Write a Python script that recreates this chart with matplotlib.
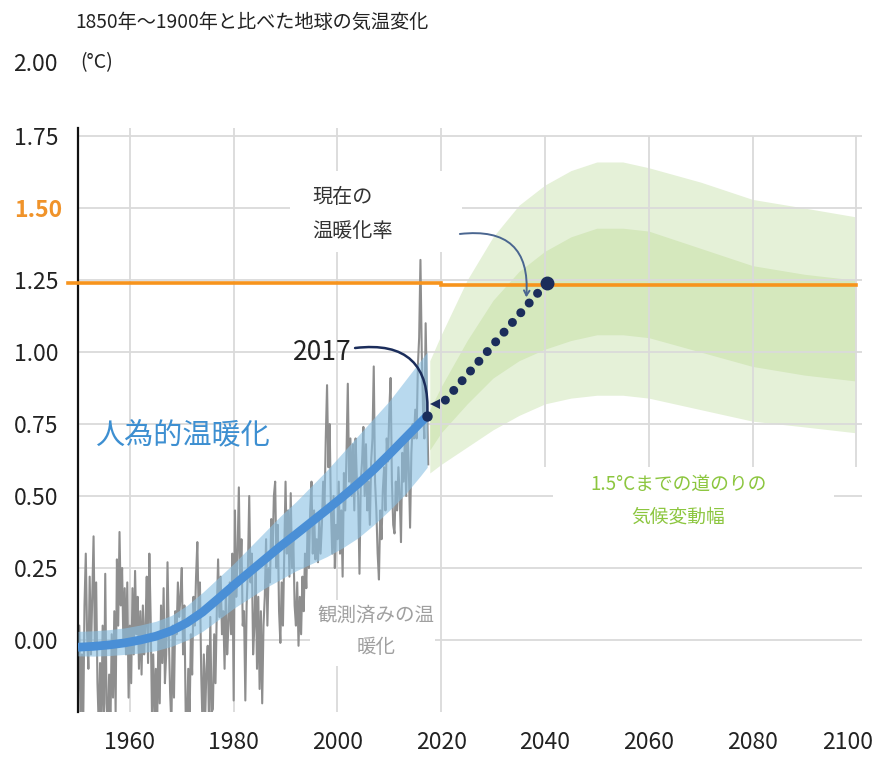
import numpy as np
import matplotlib.pyplot as plt
from matplotlib.patches import Rectangle
from matplotlib.transforms import ScaledTranslation

plt.rcParams['font.family'] = ['Noto Sans CJK JP', 'DejaVu Sans']

obs_start = 1950
obs_anom = [
    -0.18, 0.05, -0.28, -0.05,   # 1950
    -0.30, 0.12, 0.30, 0.02,
    -0.10, 0.22, -0.05, 0.15,
    0.36, -0.02, 0.20, -0.15,
    -0.30, -0.08, -0.28, 0.05,
    -0.30, 0.23, -0.22, -0.30,   # 1955
    -0.12, -0.30, 0.02, -0.20,
    0.10, -0.25, 0.28, 0.05,
    0.375, 0.12, 0.25, -0.02,
    0.18, -0.05, 0.20, -0.20,
    0.05, -0.15, 0.18, -0.05,    # 1960
    0.24, 0.02, 0.15, -0.10,
    0.10, -0.12, 0.12, -0.05,
    0.05, 0.22, -0.08, 0.30,
    0.08, -0.25, -0.05, -0.30,
    -0.10, -0.30, 0.02, -0.22,   # 1965
    0.12, -0.08, 0.18, -0.15,
    -0.05, 0.27, 0.02, -0.18,
    -0.30, 0.05, -0.20, 0.10,
    0.02, 0.20, 0.08, 0.15,
    0.25, -0.05, 0.12, -0.25,    # 1970
    -0.30, -0.10, -0.28, 0.02,
    -0.12, 0.15, 0.05, 0.22,
    0.34, 0.10, 0.20, -0.12,
    -0.30, -0.05, -0.28, -0.10,
    -0.02, -0.30, 0.08, -0.25,   # 1975
    -0.24, 0.02, -0.15, 0.10,
    0.28, 0.08, 0.22, 0.02,
    0.10, -0.10, 0.18, -0.05,
    0.05, 0.20, 0.02, 0.30,
    -0.21, 0.45, 0.15, 0.30,     # 1980
    0.53, 0.20, 0.35, 0.05,
    0.10, -0.21, 0.12, 0.25,
    0.50, 0.20, 0.30, -0.05,
    0.05, 0.25, -0.10, 0.15,
    -0.17, 0.10, -0.22, 0.05,    # 1985
    0.15, 0.35, 0.05, 0.25,
    0.20, 0.42, 0.30, 0.50,
    0.55, 0.25, 0.40, 0.10,
    -0.01, 0.20, 0.05, 0.30,
    0.55, 0.30, 0.45, 0.22,      # 1990
    0.51, 0.25, 0.35, 0.12,
    0.05, 0.20, -0.02, 0.15,
    0.02, 0.22, 0.10, 0.30,
    0.18, 0.40, 0.25, 0.45,
    0.55, 0.30, 0.45, 0.28,      # 1995
    0.35, 0.27, 0.42, 0.30,
    0.40, 0.55, 0.45, 0.70,
    0.885, 0.60, 0.75, 0.45,
    0.30, 0.50, 0.25, 0.40,
    0.35, 0.55, 0.30, 0.45,      # 2000
    0.22, 0.58, 0.45, 0.65,
    0.89, 0.55, 0.70, 0.50,
    0.68, 0.45, 0.70, 0.55,
    0.50, 0.23, 0.55, 0.62,
    0.74, 0.50, 0.68, 0.45,      # 2005
    0.55, 0.40, 0.62, 0.70,
    0.95, 0.55, 0.45, 0.30,
    0.21, 0.45, 0.35, 0.52,
    0.60, 0.45, 0.70, 0.62,
    0.80, 0.91, 0.55, 0.40,      # 2010
    0.37, 0.55, 0.45, 0.60,
    0.50, 0.34, 0.65, 0.55,
    0.70, 0.50, 0.72, 0.60,
    0.39, 0.65, 0.75, 0.70,
    0.80, 0.70, 0.95, 1.05,      # 2015
    1.32, 1.00, 0.80, 0.70,
    1.10, 0.85, 0.61,
]
obs_years = obs_start + np.arange(len(obs_anom)) / 4

# human-induced warming and its likely range
trend_years = [1950, 1953, 1956, 1959, 1962, 1965, 1968, 1971, 1974, 1977, 1980, 1983,
               1986, 1989, 1992, 1995, 1998, 2001, 2004, 2007, 2010, 2013, 2016, 2017.3]
trend_mid = [-0.025, -0.022, -0.017, -0.01, 0.0, 0.013, 0.032, 0.06, 0.097, 0.143, 0.19, 0.235,
             0.28, 0.325, 0.367, 0.41, 0.453, 0.497, 0.543, 0.592, 0.645, 0.70, 0.755, 0.778]
trend_lo = [-0.055, -0.056, -0.054, -0.05, -0.045, -0.037, -0.022, 0.0, 0.03, 0.07, 0.11, 0.145,
            0.18, 0.21, 0.24, 0.265, 0.29, 0.32, 0.355, 0.40, 0.45, 0.505, 0.57, 0.60]
trend_hi = [0.03, 0.032, 0.036, 0.042, 0.052, 0.065, 0.085, 0.12, 0.165, 0.215, 0.265, 0.32,
            0.375, 0.43, 0.48, 0.535, 0.59, 0.65, 0.71, 0.77, 0.83, 0.90, 0.97, 1.00]

# range of 1.5C pathways
path_years = [2017.8, 2020, 2025, 2030, 2035, 2040, 2045, 2050, 2055, 2060,
              2070, 2080, 2090, 2099.7]
outer_lo = [0.58, 0.61, 0.67, 0.73, 0.78, 0.82, 0.84, 0.85, 0.85, 0.84, 0.80, 0.76, 0.74, 0.72]
inner_lo = [0.66, 0.72, 0.82, 0.91, 0.97, 1.01, 1.04, 1.06, 1.06, 1.05, 1.00, 0.95, 0.92, 0.90]
inner_hi = [0.80, 0.88, 1.04, 1.18, 1.28, 1.35, 1.40, 1.43, 1.43, 1.42, 1.36, 1.30, 1.27, 1.25]
outer_hi = [0.97, 1.06, 1.25, 1.40, 1.51, 1.58, 1.63, 1.66, 1.66, 1.64, 1.59, 1.53, 1.50, 1.47]

limit_level = 1.24
rate_start = (2020.8, 0.833)
rate_end = (2040.3, 1.24)
now_point = (2017.3, 0.778)

yticks = [0.0, 0.25, 0.5, 0.75, 1.0, 1.25, 1.5, 1.75]
xticks = [1960, 1980, 2000, 2020, 2040, 2060, 2080, 2100]

navy = '#1b2d5b'
grid_c = '#dadada'
dark = '#222222'

fig = plt.figure(figsize=(8.72, 7.58), dpi=100)
ax = fig.add_axes([78 / 872, 1 - 712 / 758, 784 / 872, 584 / 758])
ax.set_xlim(1950, 2101.1)
ax.set_ylim(-0.25, 1.778)

# grid
ax.hlines(yticks, 1950, 2101.1, color=grid_c, lw=1.3, zorder=1)
ax.vlines(xticks[:4], -0.27, 1.778, color=grid_c, lw=1.3, zorder=1)
ax.vlines(xticks[4:], 0.60, 1.75, color=grid_c, lw=1.3, zorder=1)

# white boxes behind the labels
for x0, y0, w, h in [(1994.7, -0.09, 24.1, 0.23), (2041.6, 0.38, 54.1, 0.21),
                     (1990.9, 1.347, 33.1, 0.28)]:
    ax.add_patch(Rectangle((x0, y0), w, h, facecolor='white', edgecolor='none', zorder=1.5))

# pathway range
ax.fill_between(path_years, outer_lo, outer_hi, color='#e5f1d8', lw=0, zorder=0.6)
ax.fill_between(path_years, inner_lo, inner_hi, color='#d5e8bd', lw=0, zorder=0.7)

# observations
ax.plot(obs_years, obs_anom, color='#8e8e8e', lw=1.5, zorder=2)

# human-induced warming
ax.fill_between(trend_years, trend_lo, trend_hi, color='#89c0e3', alpha=0.6, lw=0, zorder=3)
ax.plot(trend_years, trend_mid, color='#4a8fd6', lw=6.3, solid_capstyle='butt',
        solid_joinstyle='round', zorder=4)

# 1.5C line
ax.plot([1948, 2020], [limit_level, limit_level], color='#f7941d', lw=2.6,
        clip_on=False, zorder=5)
ax.plot([2020, 2100], [limit_level - 0.007, limit_level - 0.007], color='#f7941d',
        lw=2.6, zorder=5)

# current warming rate
ax.plot([rate_start[0], rate_end[0]], [rate_start[1], rate_end[1]], color=navy,
        lw=6.5, linestyle=(0, (0.001, 1.42)), dash_capstyle='round', zorder=6)
ax.plot(*rate_end, 'o', color=navy, ms=9, zorder=7)
ax.plot(2018.9, 0.82, '<', color=navy, ms=7.5, mew=0, zorder=7)
ax.plot(*now_point, 'o', color=navy, ms=6.5, zorder=7)

ax.annotate('', xy=now_point, xytext=(2003.4, 1.014),
            arrowprops=dict(arrowstyle='-', color=navy, lw=1.8,
                            connectionstyle='arc3,rad=-0.6', shrinkA=0, shrinkB=0),
            zorder=6)
ax.annotate('', xy=(2036.4, 1.19), xytext=(2023.6, 1.41),
            arrowprops=dict(arrowstyle='->,head_length=0.35,head_width=0.2',
                            color='#4a6690', lw=1.4,
                            connectionstyle='arc3,rad=-0.6', shrinkA=0, shrinkB=0),
            zorder=6)

# labels
ax.text(2002.8, 1.0, '2017', ha='right', va='center', fontsize=19, color=dark, zorder=8)
ax.text(1953.3, 0.712, '人為的温暖化', ha='left', va='center', fontsize=21,
        color='#3d8fd1', zorder=8)
ax.text(1995.1, 1.479, '現在の\n温暖化率', ha='left', va='center', fontsize=14.5,
        color='#333333', linespacing=1.8, zorder=8)
ax.text(2007.5, 0.03, '観測済みの温\n暖化', ha='center', va='center', fontsize=14,
        color='#a0a0a0', linespacing=1.7, multialignment='center', zorder=8)
ax.text(2065.7, 0.484, '1.5°Cまでの道のりの\n気候変動幅', ha='center', va='center',
        fontsize=13.5, color='#8cc63f', linespacing=1.75, multialignment='center', zorder=8)

# axes
for s in ['top', 'right', 'bottom']:
    ax.spines[s].set_visible(False)
ax.spines['left'].set_linewidth(1.6)
ax.spines['left'].set_color('#111111')
ax.set_yticks(yticks)
ax.set_yticklabels(['%.2f' % v for v in yticks])
ax.set_xticks(xticks)
ax.set_xticklabels([str(v) for v in xticks])
ax.tick_params(axis='both', length=0, labelsize=16.5, labelcolor=dark)
ax.tick_params(axis='y', pad=14)
ax.tick_params(axis='x', pad=14)
for lab in ax.get_yticklabels():
    if lab.get_text() == '1.50':
        lab.set_color('#f0932a')
        lab.set_fontweight('bold')
        lab.set_transform(lab.get_transform() + ScaledTranslation(0.04, 0, fig.dpi_scale_trans))
last = ax.get_xticklabels()[-1]
last.set_transform(last.get_transform() + ScaledTranslation(-0.09, 0, fig.dpi_scale_trans))

# 2.00 label above the axes, title and unit
ax.text(-20 / 784, 2.0, '2.00', transform=ax.get_yaxis_transform(), ha='right',
        va='center', fontsize=16.5, color=dark, clip_on=False)
fig.text(75 / 872, 1 - 22 / 758, '1850年～1900年と比べた地球の気温変化', ha='left',
         va='center', fontsize=13.8, color=dark)
fig.text(80 / 872, 1 - 63 / 758, '(°C)', ha='left', va='center', fontsize=14,
         color=dark)

fig.savefig('out.png', dpi=100)
